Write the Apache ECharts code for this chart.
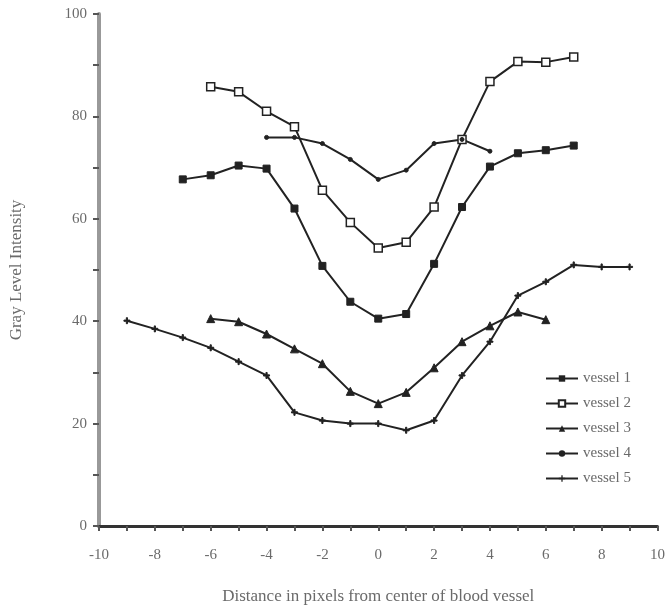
<!DOCTYPE html>
<html>
<head>
<meta charset="utf-8">
<script src="https://cdn.jsdelivr.net/npm/echarts@6/dist/echarts.min.js"></script>
<style>
  html, body { margin: 0; padding: 0; background: #fff; }
  #chart { width: 668px; height: 610px; }
</style>
</head>
<body>
<div id="chart"></div>
<script>
// distance from vessel centre (pixels) and gray level per vessel
const x_v1 = [-7, -6, -5, -4, -3, -2, -1, 0, 1, 2, 3, 4, 5, 6, 7];
const y_v1 = [67.7, 68.5, 70.4, 69.8, 62, 50.8, 43.8, 40.5, 41.4, 51.2, 62.3, 70.2, 72.8, 73.4, 74.3];

const x_v2 = [-6, -5, -4, -3, -2, -1, 0, 1, 2, 3, 4, 5, 6, 7];
const y_v2 = [85.8, 84.8, 81, 78, 65.6, 59.3, 54.3, 55.4, 62.3, 75.5, 86.8, 90.7, 90.6, 91.6];

const x_v3 = [-6, -5, -4, -3, -2, -1, 0, 1, 2, 3, 4, 5, 6];
const y_v3 = [40.5, 39.9, 37.5, 34.6, 31.7, 26.3, 23.9, 26.1, 30.9, 36, 39.1, 41.8, 40.3];

const x_v4 = [-4, -3, -2, -1, 0, 1, 2, 3, 4];
const y_v4 = [75.9, 75.9, 74.7, 71.6, 67.7, 69.5, 74.7, 75.5, 73.2];

const x_v5 = [-9, -8, -7, -6, -5, -4, -3, -2, -1, 0, 1, 2, 3, 4, 5, 6, 7, 8, 9];
const y_v5 = [40.1, 38.5, 36.8, 34.8, 32.1, 29.4, 22.2, 20.6, 20, 20, 18.7, 20.6, 29.4, 36, 45, 47.7, 51, 50.6, 50.6];

const names = ['vessel 1', 'vessel 2', 'vessel 3', 'vessel 4', 'vessel 5'];

const pair = (xs, ys) => xs.map((x, i) => [x, ys[i]]);

const chart = echarts.init(document.getElementById('chart'));

const ink = '#222';
const txt = '#6a6a6a';
const serif = '"Liberation Serif", "DejaVu Serif", serif';

const plusPath = 'path://M4,0 L6,0 L6,4 L10,4 L10,6 L6,6 L6,10 L4,10 L4,6 L0,6 L0,4 L4,4 Z';

const mkSeries = (name, data, symbol, size, extra) => Object.assign({
    name: name,
    type: 'line',
    data: data,
    symbol: symbol,
    symbolSize: size,
    showSymbol: true,
    lineStyle: { color: ink, width: 2 },
    itemStyle: { color: ink, borderColor: ink },
    animation: false
}, extra || {});

const option = {
    backgroundColor: '#fff',
    grid: { left: 99, right: 8, top: 14, bottom: 82 },
    legend: {
        orient: 'vertical',
        left: 540,
        top: 366,
        itemGap: 10,
        itemWidth: 32,
        itemHeight: 8,
        textStyle: { fontFamily: serif, fontSize: 15, color: txt },
        data: names
    },
    xAxis: {
        type: 'value',
        min: -10,
        max: 10,
        interval: 1,
        name: 'Distance in pixels from center of blood vessel',
        nameLocation: 'middle',
        nameGap: 62,
        nameTextStyle: { fontFamily: serif, fontSize: 17, color: txt },
        axisLine: { show: true, onZero: false, lineStyle: { color: '#333', width: 3 } },
        axisTick: { show: true, length: 5, lineStyle: { color: '#555', width: 2 } },
        axisLabel: {
            fontFamily: serif, fontSize: 15, color: txt, margin: 22,
            formatter: v => (v % 2 === 0 ? String(v) : '')
        },
        splitLine: { show: false }
    },
    yAxis: {
        type: 'value',
        min: 0,
        max: 100,
        interval: 10,
        name: 'Gray Level Intensity',
        nameLocation: 'middle',
        nameGap: 74,
        nameTextStyle: { fontFamily: serif, fontSize: 17, color: txt },
        axisLine: { show: true, onZero: false, lineStyle: { color: '#999', width: 4 } },
        axisTick: { show: true, length: 6, lineStyle: { color: '#555', width: 2 } },
        axisLabel: {
            fontFamily: serif, fontSize: 15, color: txt, margin: 12,
            formatter: v => (v % 20 === 0 ? String(v) : '')
        },
        splitLine: { show: false }
    },
    series: [
        mkSeries(names[0], pair(x_v1, y_v1), 'rect', 7),
        mkSeries(names[1], pair(x_v2, y_v2), 'rect', 8, {
            itemStyle: { color: '#fff', borderColor: ink, borderWidth: 1.5 }
        }),
        mkSeries(names[2], pair(x_v3, y_v3), 'triangle', 8),
        mkSeries(names[3], pair(x_v4, y_v4), 'circle', 4),
        mkSeries(names[4], pair(x_v5, y_v5), plusPath, 6)
    ]
};

chart.setOption(option);
</script>
</body>
</html>
